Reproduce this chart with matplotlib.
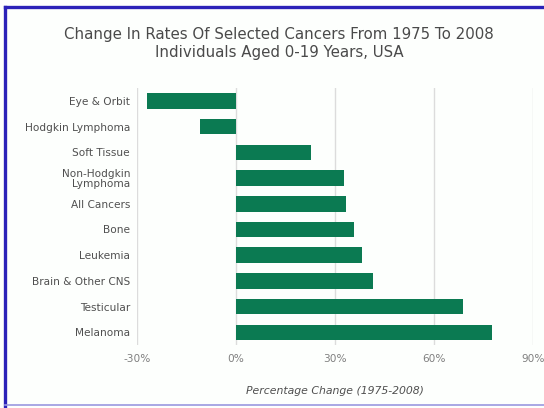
import matplotlib.pyplot as plt
from matplotlib.lines import Line2D
from matplotlib.ticker import FuncFormatter

cancers = ["Eye & Orbit", "Hodgkin Lymphoma", "Soft Tissue", "Non-Hodgkin\nLymphoma",
           "All Cancers", "Bone", "Leukemia", "Brain & Other CNS", "Testicular", "Melanoma"]
change = [-27, -11, 22.7, 32.7, 33.3, 35.8, 38.2, 41.5, 68.8, 77.6]
xticks = [-30, 0, 30, 60, 90]

bar_color = "#0b7a52"
text_color = "#505050"

fig = plt.figure(figsize=(5.44, 4.08), dpi=100)
fig.patch.set_facecolor("#fdfffd")

# blue screenshot border (right side is cut off)
blue = "#2b22b8"
fig.lines.append(Line2D([0.0099, 0.0099], [0.006, 0.984], transform=fig.transFigure,
                        color=blue, linewidth=2.4))
fig.lines.append(Line2D([0.0099, 1.0], [0.984, 0.984], transform=fig.transFigure,
                        color=blue, linewidth=2.4))
fig.lines.append(Line2D([0.0099, 1.0], [0.008, 0.008], transform=fig.transFigure,
                        color="#9a98e0", linewidth=1.2))

ax = fig.add_axes([0.2518, 0.154, 0.728, 0.63])
ax.set_facecolor("#fdfffd")
ax.barh(range(len(cancers)), change, height=0.6, color=bar_color, zorder=3)
ax.set_ylim(9.5, -0.5)
ax.set_xlim(-30, 90)
ax.set_xticks(xticks)
ax.xaxis.set_major_formatter(FuncFormatter(lambda v, p: f"{v:.0f}%"))
ax.set_yticks(range(len(cancers)))
ax.set_yticklabels(cancers, fontsize=7.6, color=text_color, linespacing=1.0)
ax.tick_params(axis="x", labelsize=7.6, colors="#808080", length=0, pad=6)
ax.tick_params(axis="y", length=0, pad=5)
ax.grid(axis="x", color="#dcdcdc", linewidth=1, zorder=0)
for s in ax.spines.values():
    s.set_visible(False)

ax.set_xlabel("Percentage Change (1975-2008)", fontsize=7.8, style="italic",
              color=text_color, labelpad=16)

fig.text(0.513, 0.915, "Change In Rates Of Selected Cancers From 1975 To 2008",
         ha="center", va="center", fontsize=10.8, color="#4a4a4a")
fig.text(0.513, 0.872, "Individuals Aged 0-19 Years, USA",
         ha="center", va="center", fontsize=10.8, color="#4a4a4a")

fig.savefig("out.png", dpi=100, facecolor=fig.get_facecolor())
